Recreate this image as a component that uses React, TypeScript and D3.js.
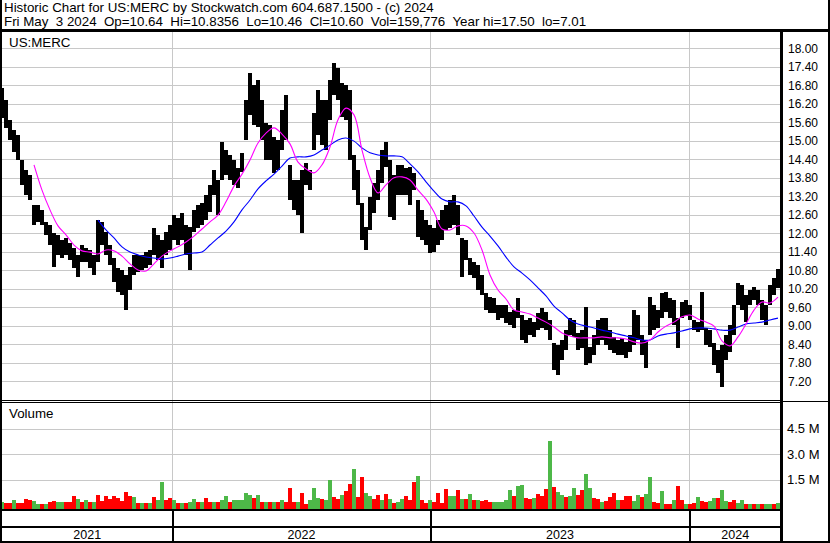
import React from 'react';
import * as d3 from 'd3';

const W = 830;
const H = 543;

const headerLine1 = 'Historic Chart for US:MERC by Stockwatch.com 604.687.1500 - (c) 2024';
const headerLine2 = 'Fri May  3 2024  Op=10.64  Hi=10.8356  Lo=10.46  Cl=10.60  Vol=159,776  Year hi=17.50  lo=7.01';
const symbolLabel = 'US:MERC';
const volumeLabel = 'Volume';

const priceTicks = [7.2, 7.8, 8.4, 9.0, 9.6, 10.2, 10.8, 11.4, 12.0, 12.6, 13.2, 13.8, 14.4, 15.0, 15.6, 16.2, 16.8, 17.4, 18.0];
const volumeTicks = [1.5, 3.0, 4.5];
const volumeTickLabels = ['1.5 M', '3.0 M', '4.5 M'];
const yearLabels = ['2021', '2022', '2023', '2024'];

// price range of each ~4-trading-day group, May 2021 .. May 2024
const high = [
  16.70, 16.31, 15.67, 15.34, 15.18, 14.37, 14.04, 13.88, 12.91, 12.91,
  12.75, 12.36, 12.26, 12.00, 11.94, 11.77, 11.84, 11.68, 11.51, 11.29,
  11.61, 11.51, 11.45, 11.29, 12.42, 12.36, 12.03, 11.61, 11.19, 10.86,
  10.80, 10.64, 10.90, 11.29, 11.29, 11.29, 11.38, 11.45, 12.16, 11.94,
  11.77, 12.03, 12.26, 12.58, 12.49, 12.65, 12.26, 12.19, 12.75, 12.91,
  12.97, 13.23, 13.56, 14.04, 13.72, 14.95, 14.69, 14.53, 14.37, 14.11,
  14.60, 16.31, 17.19, 16.80, 16.96, 16.31, 15.57, 15.50, 15.11, 15.02,
  15.99, 16.48, 14.21, 13.72, 13.72, 14.04, 14.27, 14.04, 15.89, 16.64,
  16.31, 16.31, 16.96, 17.50, 17.35, 16.86, 16.80, 16.64, 14.53, 14.04,
  12.97, 12.19, 13.17, 13.62, 14.04, 14.69, 14.95, 14.37, 13.88, 14.21,
  14.21, 14.11, 14.14, 13.95, 13.07, 12.75, 12.42, 12.26, 12.16, 12.42,
  12.75, 12.91, 13.07, 13.23, 12.91, 11.84, 11.77, 11.19, 11.06, 10.96,
  10.64, 10.05, 9.92, 9.89, 9.67, 9.67, 9.67, 9.44, 9.50, 9.89,
  9.34, 9.18, 9.24, 9.11, 9.41, 9.57, 9.44, 9.18, 8.43, 8.37,
  8.53, 8.85, 9.24, 9.18, 8.76, 8.85, 9.60, 8.30, 8.69, 9.18,
  9.24, 9.24, 8.85, 8.63, 8.53, 8.60, 8.47, 8.69, 9.50, 9.34,
  8.69, 8.53, 9.92, 9.67, 9.50, 10.05, 10.09, 9.89, 9.83, 9.24,
  9.76, 9.83, 9.67, 9.18, 9.11, 10.09, 8.92, 8.85, 8.43, 8.21,
  8.37, 8.69, 9.02, 9.67, 10.38, 10.31, 9.99, 10.15, 10.25, 10.15,
  9.83, 9.67, 10.31, 10.54, 10.84,
];
const low = [
  15.73, 15.41, 15.02, 14.63, 14.37, 13.56, 13.23, 13.07, 12.26, 12.36,
  12.26, 11.94, 11.61, 10.90, 11.29, 11.19, 11.29, 11.12, 10.86, 10.57,
  11.06, 11.06, 10.86, 10.64, 11.06, 11.61, 11.29, 10.96, 10.41, 10.09,
  9.99, 9.50, 10.15, 10.64, 10.74, 10.80, 10.86, 10.96, 11.29, 11.12,
  10.86, 11.29, 11.45, 11.77, 11.61, 11.77, 11.29, 10.80, 12.03, 12.16,
  12.26, 12.42, 12.68, 13.23, 12.58, 13.72, 13.88, 13.72, 13.56, 13.46,
  13.98, 15.02, 15.83, 15.50, 15.44, 15.02, 14.37, 14.37, 13.95, 14.04,
  14.69, 15.02, 13.07, 12.75, 12.58, 12.00, 13.56, 13.39, 14.69, 15.18,
  14.85, 14.69, 15.67, 16.48, 16.31, 15.76, 15.67, 14.37, 13.39, 12.91,
  11.77, 11.45, 12.10, 12.65, 13.07, 13.62, 14.14, 12.52, 12.42, 13.23,
  13.23, 13.23, 12.91, 13.39, 11.87, 11.77, 11.61, 11.35, 11.38, 11.61,
  11.77, 12.10, 12.16, 12.26, 11.94, 10.57, 11.12, 10.64, 10.54, 10.15,
  9.99, 9.50, 9.41, 9.41, 9.18, 9.24, 9.08, 9.02, 8.92, 9.24,
  8.53, 8.43, 8.69, 8.63, 8.85, 8.92, 8.85, 8.53, 7.56, 7.39,
  7.88, 8.21, 8.69, 8.63, 8.21, 8.27, 7.72, 7.78, 8.04, 8.37,
  8.53, 8.37, 8.21, 8.11, 8.04, 8.04, 7.95, 8.14, 8.37, 8.53,
  8.04, 7.62, 8.69, 8.85, 8.92, 9.24, 9.44, 9.24, 9.02, 8.27,
  9.24, 9.31, 9.18, 8.85, 8.79, 8.85, 8.37, 8.30, 7.72, 7.46,
  7.01, 7.88, 8.14, 8.69, 9.67, 9.50, 9.11, 9.67, 9.83, 9.67,
  9.18, 9.02, 9.67, 9.99, 10.22,
];
// peak volume of each group, millions of shares
const volume = [
  0.2, 0.17, 0.17, 0.3, 0.15, 0.15, 0.38, 0.3, 0.25, 0.12,
  0.12, 0.12, 0.2, 0.25, 0.2, 0.2, 0.2, 0.2, 0.55, 0.4,
  0.2, 0.34, 0.2, 0.2, 0.63, 0.25, 0.55, 0.4, 0.55, 0.45,
  0.28, 0.8, 0.55, 0.5, 0.15, 0.15, 0.15, 0.15, 0.5, 0.3,
  1.36, 0.3, 0.42, 0.35, 0.15, 0.15, 0.15, 0.2, 0.4, 0.2,
  0.2, 0.45, 0.2, 0.2, 0.2, 0.33, 0.55, 0.2, 0.35, 0.33,
  0.33, 0.74, 0.62, 0.45, 0.6, 0.2, 0.2, 0.2, 0.2, 0.2,
  0.35, 0.2, 1.03, 0.2, 0.2, 0.74, 0.1, 0.3, 1.0, 0.45,
  0.4, 0.3, 1.52, 0.5, 0.4, 0.63, 0.86, 1.28, 2.15, 0.5,
  1.67, 0.75, 0.55, 0.4, 0.6, 0.35, 0.65, 0.4, 0.15, 0.2,
  0.4, 0.55, 0.3, 1.38, 1.75, 0.3, 0.15, 0.3, 0.2, 0.75,
  0.15, 0.95, 0.55, 0.55, 0.9, 0.4, 0.4, 0.65, 0.3, 0.35,
  0.25, 0.3, 0.2, 0.2, 0.2, 0.2, 0.35, 0.9, 0.55, 1.15,
  1.2, 0.45, 0.4, 0.45, 0.7, 0.55, 0.95, 3.75, 1.1, 0.8,
  0.6, 0.5, 0.55, 1.05, 0.6, 0.9, 1.87, 1.05, 0.45, 0.4,
  0.2, 0.25, 0.5, 0.75, 0.3, 0.35, 0.55, 0.55, 0.25, 0.6,
  0.5, 0.7, 1.65, 0.2, 0.15, 0.85, 0.12, 0.12, 0.3, 1.15,
  0.35, 0.12, 0.12, 0.15, 0.5, 0.25, 0.2, 0.25, 0.45, 0.45,
  0.9, 0.25, 0.22, 0.3, 0.15, 0.3, 0.12, 0.1, 0.1, 0.1,
  0.1, 0.12, 0.12, 0.1, 0.15,
];
// 1 = up day (green), 0 = down day (red)
const volumeUp = [
  1, 0, 0, 1, 0, 0, 0, 0, 1, 1,
  0, 1, 0, 0, 1, 1, 0, 0, 0, 1,
  0, 1, 0, 1, 0, 0, 0, 0, 0, 0,
  0, 0, 0, 1, 0, 1, 0, 1, 0, 1,
  1, 0, 0, 1, 0, 1, 0, 1, 1, 0,
  1, 0, 0, 1, 0, 1, 1, 0, 1, 1,
  1, 1, 1, 0, 1, 0, 1, 0, 1, 0,
  1, 0, 0, 0, 1, 0, 0, 1, 1, 1,
  0, 1, 1, 0, 0, 1, 0, 0, 1, 0,
  0, 1, 1, 0, 0, 1, 0, 1, 0, 1,
  1, 0, 0, 0, 1, 0, 0, 1, 0, 0,
  0, 0, 1, 1, 0, 1, 0, 1, 0, 1,
  0, 0, 0, 1, 1, 1, 1, 1, 0, 1,
  1, 0, 0, 1, 0, 0, 0, 1, 0, 1,
  1, 0, 1, 1, 0, 0, 1, 1, 0, 0,
  1, 0, 0, 0, 1, 0, 0, 0, 1, 1,
  0, 1, 1, 0, 0, 1, 0, 0, 1, 0,
  0, 1, 0, 0, 1, 0, 0, 1, 1, 0,
  1, 1, 0, 0, 1, 1, 0, 1, 0, 1,
  0, 1, 1, 0, 1,
];
// short moving average (magenta), every 2nd group from group 8
const maShortStart = 8;
const maShort = [
  14.21, 13.39, 12.75, 12.23, 11.94, 11.61, 11.42, 11.38, 11.32, 11.45,
  11.42, 11.25, 11.00, 10.80, 10.77, 11.00, 11.25, 11.42, 11.55, 11.71,
  11.90, 12.13, 12.36, 12.58, 13.01, 13.52, 13.91, 14.37, 14.92, 15.24,
  15.41, 15.21, 14.89, 14.30, 14.08, 13.95, 14.21, 14.79, 15.67, 16.05,
  15.83, 14.69, 13.79, 13.30, 13.56, 13.79, 13.82, 13.72, 13.39, 13.10,
  12.68, 12.13, 12.10, 12.23, 12.23, 12.00, 11.45, 10.64, 10.15, 9.86,
  9.50, 9.44, 9.37, 9.24, 9.11, 8.95, 8.76, 8.66, 8.60, 8.60,
  8.60, 8.63, 8.60, 8.60, 8.56, 8.47, 8.43, 8.53, 8.79, 8.98,
  9.11, 9.28, 9.34, 9.21, 9.11, 8.98, 8.50, 8.34, 8.63, 9.05,
  9.50, 9.76, 9.73, 9.92,
];
// long moving average (blue), every 2nd group from group 24
const maLongStart = 24;
const maLong = [
  12.42, 12.10, 11.84, 11.55, 11.38, 11.29, 11.22, 11.19, 11.16, 11.19,
  11.25, 11.32, 11.35, 11.38, 11.61, 11.84, 12.06, 12.36, 12.75, 13.07,
  13.43, 13.69, 13.91, 14.17, 14.43, 14.47, 14.47, 14.53, 14.69, 14.85,
  15.02, 15.08, 14.98, 14.76, 14.60, 14.53, 14.50, 14.50, 14.47, 14.24,
  13.98, 13.66, 13.36, 13.10, 13.01, 13.01, 12.88, 12.55, 12.19, 11.90,
  11.58, 11.22, 10.90, 10.70, 10.48, 10.22, 9.96, 9.63, 9.41, 9.18,
  9.05, 8.98, 8.92, 8.85, 8.79, 8.72, 8.66, 8.60, 8.53, 8.53,
  8.66, 8.72, 8.76, 8.82, 8.89, 8.92, 8.92, 8.89, 8.85, 8.85,
  8.95, 9.05, 9.08, 9.11, 9.18, 9.24,
];

const FONT = "'Liberation Sans', Arial, sans-serif";

export default function App() {
  const N = high.length;
  const t0 = new Date(2021, 4, 7);
  const t1 = new Date(2024, 4, 5);
  const x = d3.scaleTime().domain([t0, t1]).range([2, 778]);
  const dateAt = (i: number) => new Date(+t0 + (i / (N - 1)) * (+t1 - +t0));
  const y = d3.scaleLinear().domain([7.2, 18]).range([381, 48]);
  const yv = d3.scaleLinear().domain([0, 4.5]).range([505.6, 428.5]);

  const plotL = 2;
  const axisX = 781;
  const priceTop = 32;
  const priceBot = 400;
  const volTop = 403;
  const volBot = 509;

  const yearStarts = x.ticks(d3.timeYear.every(1));
  const yearX = yearStarts.map((d) => Math.round(x(d)) + 0.5);
  const bounds = [plotL, ...yearX, axisX];

  const barW = 4;
  const fmt = d3.format('.2f');

  const maLine = (start: number) =>
    d3
      .line<number>()
      .x((_, k) => x(dateAt(start + 2 * k)))
      .y((v) => y(v))
      .curve(d3.curveCatmullRom);

  return (
    <svg width={W} height={H} style={{ display: 'block', position: 'absolute', left: 0, top: 0, background: '#fff' }}>
      <defs>
        <clipPath id="priceClip">
          <rect x={plotL} y={priceTop} width={axisX - plotL} height={priceBot - priceTop} />
        </clipPath>
        <clipPath id="volClip">
          <rect x={plotL} y={volTop} width={axisX - plotL} height={volBot - volTop} />
        </clipPath>
      </defs>
      <rect x={0} y={0} width={W} height={H} fill="#fff" />

      {/* header */}
      <text x={4} y={12} fontFamily={FONT} fontSize={13.33} fill="#000" style={{ whiteSpace: 'pre' }}>
        {headerLine1}
      </text>
      <text x={4} y={25.5} fontFamily={FONT} fontSize={13.33} fill="#000" style={{ whiteSpace: 'pre' }}>
        {headerLine2}
      </text>

      {/* price gridlines */}
      <g shapeRendering="crispEdges" stroke="#c8c8c8" strokeWidth={1}>
        {priceTicks.map((p) => (
          <line key={p} x1={plotL} x2={axisX} y1={Math.round(y(p)) + 0.5} y2={Math.round(y(p)) + 0.5} />
        ))}
        {volumeTicks.map((v) => (
          <line key={'v' + v} x1={plotL} x2={axisX} y1={Math.round(yv(v)) + 0.5} y2={Math.round(yv(v)) + 0.5} />
        ))}
        {yearX.map((xx) => (
          <line key={'y' + xx} x1={xx} x2={xx} y1={priceTop} y2={volBot} />
        ))}
      </g>

      {/* price bars */}
      <g clipPath="url(#priceClip)" shapeRendering="crispEdges">
        {high.map((h, i) => {
          const xc = x(dateAt(i));
          const yt = y(h);
          const yb = y(low[i]);
          return <rect key={i} x={xc - barW / 2} y={yt} width={barW} height={Math.max(1, yb - yt)} fill="#000" />;
        })}
      </g>

      {/* moving averages */}
      <g clipPath="url(#priceClip)" fill="none" strokeWidth={1.1}>
        <path d={maLine(maLongStart)(maLong) || ''} stroke="#0000ff" />
        <path d={maLine(maShortStart)(maShort) || ''} stroke="#ff00ff" />
      </g>

      {/* volume bars */}
      <g clipPath="url(#volClip)" shapeRendering="crispEdges">
        {volume.map((v, i) => {
          const xc = x(dateAt(i));
          const yt = yv(v);
          return (
            <rect
              key={i}
              x={xc - barW / 2}
              y={yt}
              width={barW}
              height={volBot - yt}
              fill={volumeUp[i] ? '#4db848' : '#ff0000'}
            />
          );
        })}
      </g>

      {/* labels in panels */}
      <text x={9} y={47} fontFamily={FONT} fontSize={13.33} fill="#000">{symbolLabel}</text>
      <text x={9} y={418} fontFamily={FONT} fontSize={13.33} fill="#000">{volumeLabel}</text>

      {/* right axis labels */}
      {priceTicks.map((p) => (
        <text key={p} x={788} y={y(p) + 4.5} fontFamily={FONT} fontSize={12} fill="#000">
          {fmt(p)}
        </text>
      ))}
      {volumeTicks.map((v, k) => (
        <text key={'vl' + v} x={787} y={yv(v) + 4.5} fontFamily={FONT} fontSize={13} fill="#000">
          {volumeTickLabels[k]}
        </text>
      ))}

      {/* frame lines */}
      <g shapeRendering="crispEdges" fill="#000">
        <rect x={0} y={29} width={W} height={3} />
        <rect x={0} y={0} width={2} height={H} />
        <rect x={W - 2} y={0} width={2} height={H} />
        <rect x={780} y={29} width={3} height={H - 29} />
        <rect x={0} y={400} width={axisX} height={1} />
        <rect x={0} y={402} width={axisX} height={1} />
        <rect x={axisX} y={401} width={W - axisX} height={1} />
        <rect x={0} y={509} width={axisX} height={2} />
        <rect x={0} y={526} width={axisX} height={2} />
        <rect x={0} y={541} width={W} height={2} />
        {yearX.map((xx) => (
          <rect key={'s' + xx} x={xx - 0.5} y={511} width={2} height={30} />
        ))}
      </g>

      {/* year labels */}
      {yearLabels.map((lab, k) => (
        <text
          key={lab}
          x={(bounds[k] + bounds[k + 1]) / 2}
          y={539}
          textAnchor="middle"
          fontFamily={FONT}
          fontSize={12.5}
          fill="#000"
        >
          {lab}
        </text>
      ))}
    </svg>
  );
}
